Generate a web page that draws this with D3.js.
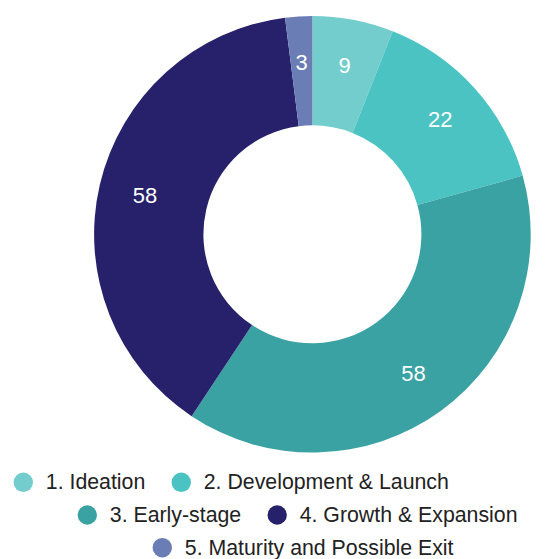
<!DOCTYPE html>
<html>
<head>
<meta charset="utf-8">
<script src="https://cdn.jsdelivr.net/npm/d3@7"></script>
<style>
  html, body { margin: 0; padding: 0; background: #fff; }
  svg { display: block; font-family: "Liberation Sans", Arial, sans-serif; }
</style>
</head>
<body>
<svg id="chart" width="555" height="559"></svg>
<script>
// Stage breakdown
const stages = ["1. Ideation", "2. Development & Launch", "3. Early-stage", "4. Growth & Expansion", "5. Maturity and Possible Exit"];
const counts = [9, 22, 58, 58, 3];
const colors = ["#73cdcc", "#4bc3c3", "#3ba2a4", "#27216b", "#6b7db5"];
// Legend rows: which stages sit on each line
const legendRows = [[0, 1], [2, 3], [4]];

const svg = d3.select("#chart");
const cx = 312.4, cy = 234.3;
const outerR = 218.3, innerR = 109;
const labelR = 172;

const color = d3.scaleOrdinal().domain(stages).range(colors);
const pie = d3.pie().sort(null).value(d => d.value);
const data = stages.map((s, i) => ({ stage: s, value: counts[i] }));
const arcs = pie(data);

const arc = d3.arc().innerRadius(innerR).outerRadius(outerR);
const labelArc = d3.arc().innerRadius(labelR).outerRadius(labelR);

const g = svg.append("g").attr("transform", `translate(${cx},${cy})`);

g.selectAll("path.slice")
  .data(arcs)
  .join("path")
  .attr("class", "slice")
  .attr("d", arc)
  .attr("fill", d => color(d.data.stage));

g.selectAll("text.value")
  .data(arcs)
  .join("text")
  .attr("class", "value")
  .attr("transform", d => `translate(${labelArc.centroid(d)})`)
  .attr("text-anchor", "middle")
  .attr("dominant-baseline", "central")
  .attr("fill", "#fff")
  .attr("font-size", 22)
  .text(d => d.data.value);

// Legend
const rowY = [482.3, 515, 547.7];
const rowX = [23.3, 87.3, 162.3];
const dotR = 9.7, textGap = 22.5, itemGap = 36;

legendRows.forEach((row, ri) => {
  let x = rowX[ri];
  row.forEach(idx => {
    const item = svg.append("g").attr("transform", `translate(${x},${rowY[ri]})`);
    item.append("circle").attr("r", dotR).attr("fill", color(stages[idx]));
    const t = item.append("text")
      .attr("x", textGap)
      .attr("dominant-baseline", "central")
      .attr("fill", "#222")
      .attr("font-size", 21.3)
      .text(stages[idx]);
    x += textGap + t.node().getComputedTextLength() + itemGap;
  });
});
</script>
</body>
</html>
